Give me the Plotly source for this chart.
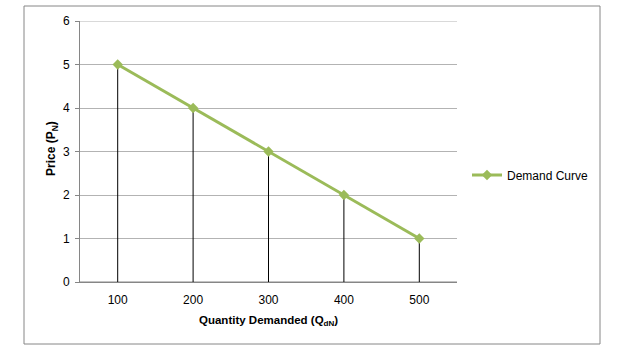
import plotly.graph_objects as go

quantity = [100, 200, 300, 400, 500]
price = [5, 4, 3, 2, 1]
series_name = "Demand Curve"
x_title = "<b>Quantity Demanded (Q<sub>dN</sub>)</b>"
y_title = "<b>Price (P<sub>N</sub>)</b>"

GREEN = "#9BBB59"
FONT = "Liberation Sans, Arial, sans-serif"

# plot area in pixels: x 80..457, y 21..282
L, R, T, B = 80, 162, 21, 78
PW, PH = 619 - L - R, 360 - T - B


def px_x(p):
    return (p - L) / PW


def px_y(p):
    return (360 - B - p) / PH


fig = go.Figure()

# drop lines from each point down to zero
fig.add_trace(go.Scatter(
    x=quantity, y=[0] * len(quantity), mode="markers",
    marker=dict(size=0.1, color="rgba(0,0,0,0)"),
    error_y=dict(type="data", symmetric=False, array=price, arrayminus=[0] * len(price),
                 color="black", thickness=1, width=0),
    showlegend=False, hoverinfo="skip"))

fig.add_trace(go.Scatter(
    x=quantity, y=price, mode="lines+markers", name=series_name,
    line=dict(color=GREEN, width=3),
    marker=dict(symbol="diamond", size=8, color=GREEN)))

fig.update_layout(
    width=619, height=360,
    margin=dict(l=L, r=R, t=T, b=B, autoexpand=False),
    paper_bgcolor="white", plot_bgcolor="white",
    font=dict(family=FONT, size=12, color="black"),
    showlegend=True,
    legend=dict(x=px_x(467), y=px_y(175), xanchor="left", yanchor="middle",
                font=dict(size=12), bgcolor="rgba(0,0,0,0)", itemwidth=30),
    xaxis=dict(range=[50, 550], tickvals=quantity, ticktext=[str(q) for q in quantity],
               showgrid=False, zeroline=False, showline=True, linecolor="#868686",
               ticks="", automargin=False, tickfont=dict(size=12), ticklabelstandoff=7),
    yaxis=dict(range=[0, 6], dtick=1, showgrid=True, gridcolor="#B3B3B3", gridwidth=1,
               zeroline=False, showline=True, linecolor="#868686",
               ticks="outside", ticklen=4, tickcolor="#868686", automargin=False,
               tickfont=dict(size=12), ticklabelstandoff=3),
    annotations=[
        dict(text=x_title, xref="paper", yref="paper", x=px_x(268), y=px_y(321),
             xanchor="center", yanchor="middle", showarrow=False, font=dict(size=11.5)),
        dict(text=y_title, xref="paper", yref="paper", x=px_x(52), y=px_y(149),
             xanchor="center", yanchor="middle", showarrow=False, textangle=-90,
             font=dict(size=12)),
    ],
    shapes=[dict(type="rect", xref="paper", yref="paper",
                 x0=px_x(24), x1=px_x(600), y0=px_y(344), y1=px_y(6),
                 line=dict(color="#868686", width=1), fillcolor="rgba(0,0,0,0)",
                 layer="below"),
            dict(type="line", xref="paper", yref="y", x0=0, x1=1, y0=6, y1=6,
                 line=dict(color="#B3B3B3", width=1), layer="below"),
            dict(type="line", xref="paper", yref="y", x0=0, x1=1, y0=0, y1=0,
                 line=dict(color="#868686", width=1), layer="below")],
)

fig.write_html("out.html", config={"displayModeBar": False},
               post_script="document.body.style.margin='0';")
